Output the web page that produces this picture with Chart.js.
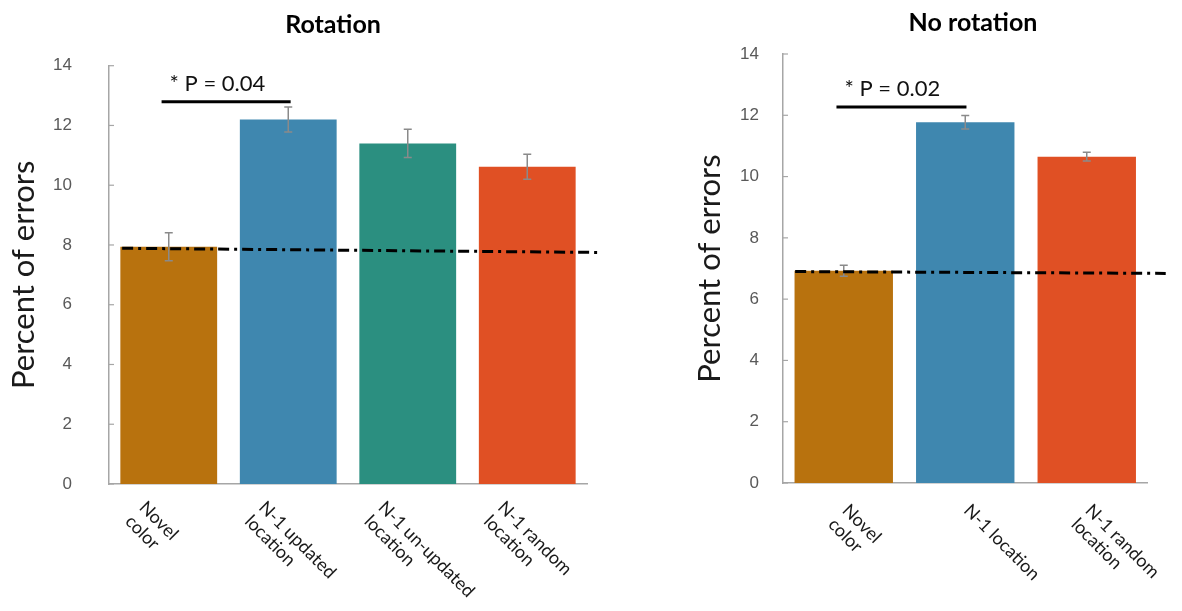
<!DOCTYPE html>
<html>
<head>
<meta charset="utf-8">
<script src="https://cdn.jsdelivr.net/npm/chart.js@4/dist/chart.umd.min.js"></script>
<style>
  html, body { margin: 0; padding: 0; background: #fff; }
  #wrap { position: relative; width: 1182px; height: 611px; overflow: hidden; }
  canvas { position: absolute; top: 0; }
</style>
</head>
<body>
<div id="wrap">
  <canvas id="rotChart" width="666" height="611" style="left:0px"></canvas>
  <canvas id="noRotChart" width="566" height="611" style="left:690px"></canvas>
</div>
<script>
// ---- data ----
const rotLabels = [['Novel', 'color'], ['N-1 updated', 'location'], ['N-1 un-updated', 'location'], ['N-1 random', 'location']];
const rotMeans = [7.94, 12.2, 11.4, 10.62];
const rotErrors = [0.47, 0.42, 0.47, 0.42];
const rotBaseline = [{ x: -0.39, y: 7.89 }, { x: 3.6, y: 7.75 }];
const rotSig = [{ x: -0.06, y: 12.79 }, { x: 1.02, y: 12.79 }];
const rotSigText = '* P = 0.04';

const noRotLabels = [['Novel', 'color'], ['N-1 location'], ['N-1 random', 'location']];
const noRotMeans = [6.93, 11.77, 10.65];
const noRotErrors = [0.18, 0.22, 0.14];
const noRotBaseline = [{ x: -0.4, y: 6.9 }, { x: 2.65, y: 6.84 }];
const noRotSig = [{ x: -0.06, y: 12.27 }, { x: 1.01, y: 12.27 }];
const noRotSigText = '* P = 0.02';

const yMin = 0, yMax = 14, yStep = 2;

const rotColors = ['#b8720e', '#3f87af', '#2b8f80', '#e05024'];
const noRotColors = ['#b8720e', '#3f87af', '#e05024'];

function makeChart(id, d, lay) {
  const ctx = document.getElementById(id).getContext('2d');

  // error bars, significance text, inward y ticks, rotated category labels
  const annotate = {
    id: 'annotate_' + id,
    afterDatasetDraw(chart, args) {
      if (args.index !== 0) return;
      const { ctx, scales: { x, y } } = chart;
      ctx.save();
      ctx.strokeStyle = '#8a8a8a';
      ctx.lineWidth = 1.5;
      d.means.forEach((m, i) => {
        const px = x.getPixelForValue(i);
        const hi = y.getPixelForValue(m + d.errors[i]);
        const lo = y.getPixelForValue(m - d.errors[i]);
        ctx.beginPath();
        ctx.moveTo(px, lo); ctx.lineTo(px, hi);
        ctx.moveTo(px - 4, hi); ctx.lineTo(px + 4, hi);
        ctx.moveTo(px - 4, lo); ctx.lineTo(px + 4, lo);
        ctx.stroke();
      });
      ctx.restore();
    },
    afterDraw(chart) {
      const { ctx, scales: { x, x2, y } } = chart;
      ctx.save();
      // small inward ticks on the y axis
      ctx.strokeStyle = '#a6a6a6';
      ctx.lineWidth = 1.2;
      y.ticks.forEach(t => {
        const py = y.getPixelForValue(t.value);
        ctx.beginPath(); ctx.moveTo(y.right, py); ctx.lineTo(y.right + 5, py); ctx.stroke();
      });
      // p value above the bracket
      ctx.fillStyle = '#111';
      ctx.font = '22px Lato';
      ctx.textBaseline = 'middle';
      ctx.textAlign = 'left';
      ctx.fillText(d.sigText, x2.getPixelForValue(d.sig[0].x) + 8, y.getPixelForValue(d.sig[0].y) - 18);
      // category labels, rotated down to the right
      ctx.font = '18px Lato';
      ctx.fillStyle = '#1a1a1a';
      ctx.textBaseline = 'top';
      d.labels.forEach((lines, i) => {
        ctx.save();
        ctx.translate(x.getPixelForValue(i) + lay.labelDx, x.top + lay.labelDy);
        ctx.rotate(Math.PI / 4);
        lines.forEach((ln, k) => ctx.fillText(ln, 0, k * 20));
        ctx.restore();
      });
      ctx.restore();
    }
  };

  return new Chart(ctx, {
    type: 'bar',
    data: {
      labels: d.labels.map(l => l.join(' ')),
      datasets: [{
        data: d.means,
        backgroundColor: d.colors,
        barPercentage: 0.81,
        categoryPercentage: 1,
        grouped: false,
        order: 2
      }, {
        type: 'line',
        xAxisID: 'x2',
        data: d.baseline,
        borderColor: '#000',
        borderWidth: 3,
        borderDash: [11, 5, 3, 5],
        pointRadius: 0,
        clip: false,
        order: 1
      }, {
        type: 'line',
        xAxisID: 'x2',
        data: d.sig,
        borderColor: '#000',
        borderWidth: 3,
        pointRadius: 0,
        clip: false,
        order: 1
      }]
    },
    options: {
      responsive: false,
      animation: false,
      layout: { padding: 0 },
      plugins: {
        legend: { display: false },
        tooltip: { enabled: false },
        title: {
          display: true,
          text: d.title,
          color: '#000',
          font: { family: 'Lato', size: 25, weight: 'bold' },
          padding: lay.titlePad
        }
      },
      scales: {
        x: {
          grid: { display: false },
          border: { display: true, color: '#a6a6a6', width: 1.5 },
          ticks: { display: false },
          afterFit: s => { s.height = lay.xHeight; }
        },
        x2: {
          type: 'linear',
          display: false,
          offset: false,
          min: -0.5,
          max: d.means.length - 0.5
        },
        y: {
          min: yMin,
          max: yMax,
          grid: { display: false },
          border: { display: true, color: '#a6a6a6', width: 1.5 },
          ticks: {
            stepSize: yStep,
            color: '#595959',
            padding: lay.tickPad,
            font: { family: 'Liberation Sans', size: 17 }
          },
          title: {
            display: true,
            text: 'Percent of errors',
            color: '#1a1a1a',
            font: { family: 'Lato', size: 31 },
            padding: { top: lay.yTitlePad, bottom: 0 }
          },
          afterFit: s => { s.width = lay.yWidth; }
        },
        // empty right-hand axis, only keeps room on the right so the title sits where it should
        yPad: {
          type: 'linear',
          position: 'right',
          grid: { display: false },
          border: { display: false },
          ticks: { display: false },
          afterFit: s => { s.width = lay.rightRoom; }
        }
      }
    },
    plugins: [annotate]
  });
}

makeChart('rotChart', {
  title: 'Rotation', labels: rotLabels, means: rotMeans, errors: rotErrors,
  colors: rotColors, baseline: rotBaseline, sig: rotSig, sigText: rotSigText
}, {
  yWidth: 109, yTitlePad: 5.4, tickPad: 29, xHeight: 127, rightRoom: 79,
  titlePad: { top: 10, bottom: 25.7 }, labelDx: -20, labelDy: 14
});

makeChart('noRotChart', {
  title: 'No rotation', labels: noRotLabels, means: noRotMeans, errors: noRotErrors,
  colors: noRotColors, baseline: noRotBaseline, sig: noRotSig, sigText: noRotSigText
}, {
  yWidth: 93, yTitlePad: 0.9, tickPad: 16, xHeight: 128, rightRoom: 108.5,
  titlePad: { top: 8, bottom: 16 }, labelDx: 8, labelDy: 18
});
</script>
</body>
</html>
